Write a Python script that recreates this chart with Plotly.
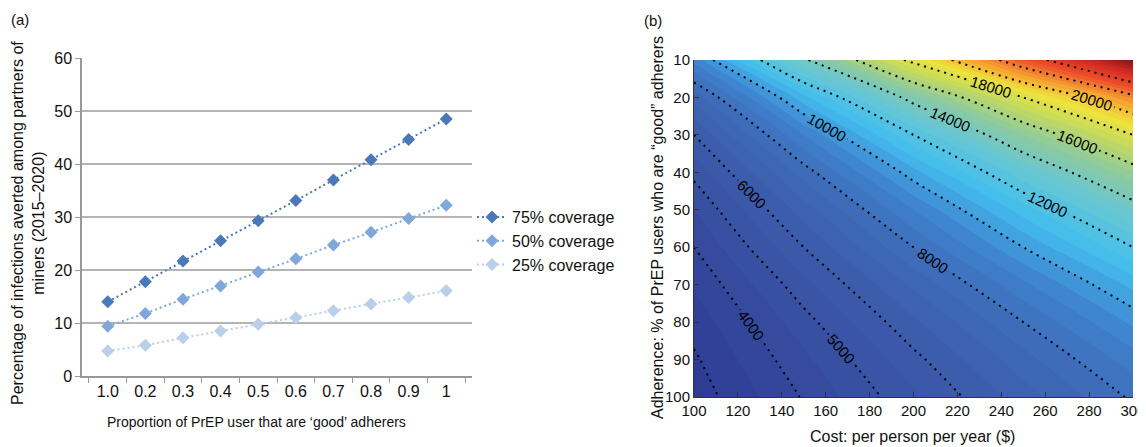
import plotly.graph_objects as go

# ---------------- Panel (a) data ----------------
adherence_cats = ["1.0", "0.2", "0.3", "0.4", "0.5", "0.6", "0.7", "0.8", "0.9", "1"]
cov75 = [14.0, 17.8, 21.7, 25.5, 29.3, 33.1, 37.0, 40.8, 44.6, 48.5]
cov50 = [9.4, 11.8, 14.5, 17.0, 19.6, 22.1, 24.7, 27.1, 29.7, 32.2]
cov25 = [4.7, 5.8, 7.2, 8.5, 9.75, 11.0, 12.3, 13.6, 14.8, 16.1]
series_names = ["75% coverage", "50% coverage", "25% coverage"]
series_colors = ["#4a78b9", "#80a7d9", "#b9cfea"]

# ---------------- Panel (b) data ----------------
cost = [100, 150, 200, 250, 300]
adh_pct = [10, 20, 30, 40, 50, 60, 70, 80, 90, 100]
cost_per_ia = [
    [9200, 13800, 18400, 23000, 27600],
    [7200, 10800, 14400, 18000, 21600],
    [6000, 9000, 12000, 15000, 18000],
    [5150, 7725, 10300, 12875, 15450],
    [4500, 6750, 9000, 11250, 13500],
    [4000, 6000, 8000, 10000, 12000],
    [3550, 5325, 7100, 8875, 10650],
    [3200, 4800, 6400, 8000, 9600],
    [2920, 4380, 5840, 7300, 8760],
    [2700, 4050, 5400, 6750, 8100],
]

W, H = 1146, 447
OFF = 8  # page body margin offset
def px(x):
    return (x - OFF) / W
def py(y):
    return 1 - (y - OFF) / H

fig = go.Figure()

for name, vals, col in zip(series_names, [cov75, cov50, cov25], series_colors):
    fig.add_trace(go.Scatter(
        x=adherence_cats, y=vals, name=name, mode="lines+markers",
        line=dict(color=col, width=2, dash="2px,3px"),
        marker=dict(symbol="diamond", size=10, color=col),
        xaxis="x", yaxis="y",
    ))

cscale = [
    [0.0, "#2e3c94"],
    [0.10, "#3a54a4"],
    [0.20, "#3e69b6"],
    [0.27, "#3f86d0"],
    [0.34, "#42bdee"],
    [0.42, "#66c7d6"],
    [0.50, "#8ccaa0"],
    [0.59, "#c6da5c"],
    [0.66, "#f0e43c"],
    [0.74, "#f6a431"],
    [0.84, "#eb4a2b"],
    [0.93, "#d22a22"],
    [1.0, "#8a1a1a"],
]

fig.add_trace(go.Contour(
    x=cost, y=adh_pct, z=cost_per_ia,
    colorscale=cscale, zmin=2700, zmax=27600,
    contours=dict(coloring="fill", start=2500, end=28000, size=500, showlines=False),
    line=dict(width=0), showscale=False, hoverinfo="skip",
    xaxis="x2", yaxis="y2", showlegend=False,
))

for start, end, size in [(3000, 6000, 1000), (8000, 24000, 2000)]:
    fig.add_trace(go.Contour(
        x=cost, y=adh_pct, z=cost_per_ia,
        contours=dict(coloring="none", start=start, end=end, size=size,
                      showlabels=True,
                      labelfont=dict(size=15, color="black", family="Arial, Liberation Sans"),
                      labelformat=".0f"),
        line=dict(color="black", width=2, dash="2px,5px"),
        showscale=False, hoverinfo="skip",
        xaxis="x2", yaxis="y2", showlegend=False,
    ))

font = dict(family="Arial, Liberation Sans, sans-serif", size=14, color="#111")

fig.update_layout(
    width=W, height=H,
    margin=dict(l=0, r=0, t=0, b=0, autoexpand=False),
    paper_bgcolor="white", plot_bgcolor="white",
    font=font,
    showlegend=True,
    legend=dict(x=px(472), y=py(200), xanchor="left", yanchor="top", itemwidth=30,
                font=dict(size=16), bgcolor="rgba(0,0,0,0)", tracegroupgap=0),
    xaxis=dict(domain=[px(82), px(472)], type="category", automargin=False,
               tickson="boundaries", ticks="outside", ticklen=5, tickcolor="#999",
               showline=True, linecolor="#999", linewidth=1.5,
               showgrid=False, tickfont=dict(size=16), anchor="y", fixedrange=True),
    yaxis=dict(domain=[py(376), py(58)], range=[0, 60], dtick=10, automargin=False,
               ticks="outside", ticklen=5, tickcolor="#999",
               showline=True, linecolor="#999", linewidth=1.5,
               showgrid=True, gridcolor="#b4b4b4", gridwidth=1.5,
               zeroline=False, tickfont=dict(size=16), anchor="x"),
    xaxis2=dict(domain=[px(694), px(1133)], range=[100, 300], dtick=20, automargin=False,
                ticks="inside", ticklen=5, tickcolor="#333",
                showline=True, linecolor="#333", linewidth=1,
                showgrid=False, zeroline=False, tickfont=dict(size=15), anchor="y2"),
    yaxis2=dict(domain=[py(397), py(60)], range=[100, 10], dtick=10, automargin=False,
                ticks="inside", ticklen=5, tickcolor="#333",
                showline=True, linecolor="#333", linewidth=1,
                showgrid=False, zeroline=False, tickfont=dict(size=15), anchor="x2"),
    annotations=[
        dict(text="(a)", x=px(9), y=py(19), xref="paper", yref="paper",
             xanchor="left", yanchor="middle", showarrow=False, font=dict(size=15)),
        dict(text="(b)", x=px(642), y=py(21), xref="paper", yref="paper",
             xanchor="left", yanchor="middle", showarrow=False, font=dict(size=15)),
        dict(text="Percentage of infections averted among partners of<br>miners (2015–2020)",
             x=px(28), y=py(223), xref="paper", yref="paper", textangle=-90,
             xanchor="center", yanchor="middle", showarrow=False, font=dict(size=16)),
        dict(text="Proportion of PrEP user that are ‘good’ adherers",
             x=px(256), y=py(422), xref="paper", yref="paper",
             xanchor="center", yanchor="middle", showarrow=False, font=dict(size=14)),
        dict(text="Adherence: % of PrEP users who are “good” adherers",
             x=px(657), y=py(228), xref="paper", yref="paper", textangle=-90,
             xanchor="center", yanchor="middle", showarrow=False, font=dict(size=16)),
        dict(text="Cost: per person per year ($)",
             x=px(912), y=py(436), xref="paper", yref="paper",
             xanchor="center", yanchor="middle", showarrow=False, font=dict(size=16)),
    ],
)

fig.write_html("out.html")
